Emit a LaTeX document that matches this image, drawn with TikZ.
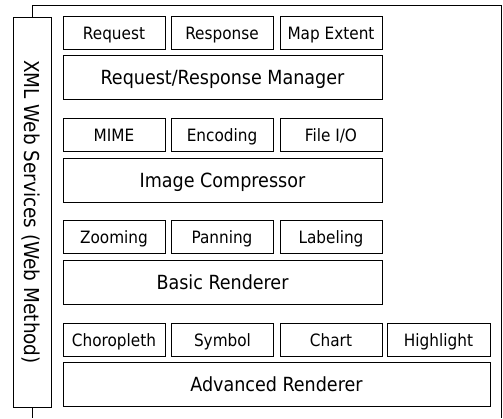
\documentclass[tikz,border=0pt]{standalone}
\usepackage{fontspec}
\setmainfont{DejaVu Sans Condensed}
\usetikzlibrary{positioning}

\begin{document}
\begin{tikzpicture}[x=1pt,y=-1pt]
  \tikzstyle{part}=[draw,line width=1pt,minimum width=102pt,minimum height=33pt,
    inner sep=0pt,text height=12pt,text depth=0pt,font=\fontsize{17}{19}\selectfont]
  \tikzstyle{layer}=[draw,line width=1pt,minimum width=319pt,minimum height=44pt,
    inner sep=0pt,text height=14pt,text depth=0pt,font=\fontsize{19.5}{22}\selectfont]
  \useasboundingbox (0,0) rectangle (503,418);
  % Web method column on the left
  \node[draw,line width=1pt,rotate=-90,minimum width=390pt,minimum height=38pt,
    inner sep=0pt,text height=15pt,text depth=0pt,font=\fontsize{20.5}{23}\selectfont]
    (ws) at (32,212) {XML Web Services (Web Method)};
  % Open frame round the stack
  \draw[line width=1pt] (ws.west) -- (32,5) -| (501,418);
  \draw[line width=1pt] (ws.east) -- (32,418);
  % Request handling
  \node[part] (request) at (114,33) {Request};
  \node[part] (response) at (222,33) {Response};
  \node[part] (extent) at (331,33) {Map Extent};
  \node[layer] (manager) at (222.5,77.5) {Request/Response Manager};
  % Compression
  \node[part] (mime) at (114,135) {MIME};
  \node[part] (encoding) at (222,135) {Encoding};
  \node[part] (fileio) at (331,135) {File I/O};
  \node[layer] (compressor) at (222.5,180) {Image Compressor};
  % Basic rendering
  \node[part] (zooming) at (114,237) {Zooming};
  \node[part] (panning) at (222,237) {Panning};
  \node[part] (labeling) at (331,237) {Labeling};
  \node[layer] (basic) at (222.5,282.5) {Basic Renderer};
  % Advanced rendering
  \node[part] (choropleth) at (114,340) {Choropleth};
  \node[part] (symbol) at (222.5,340) {Symbol};
  \node[part] (chart) at (331,340) {Chart};
  \node[part,minimum width=103pt] (highlight) at (438.5,340) {Highlight};
  \node[layer,minimum width=427pt] (advanced) at (276.5,384.5) {Advanced Renderer};
\end{tikzpicture}
\end{document}
